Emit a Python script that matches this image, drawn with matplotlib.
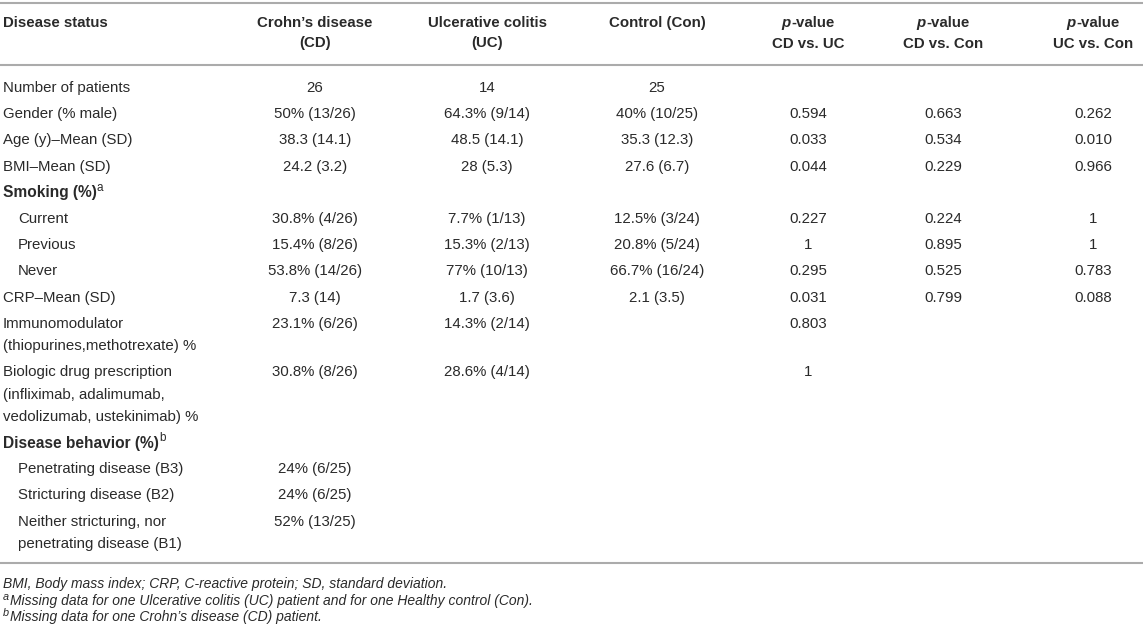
import matplotlib.pyplot as plt

plt.rcParams['font.family'] = ['Liberation Sans', 'DejaVu Sans']

# table content
row_labels = ["Number of patients", "Gender (% male)", "Age (y)–Mean (SD)", "BMI–Mean (SD)",
              "Smoking (%)", "Current", "Previous", "Never", "CRP–Mean (SD)",
              "Immunomodulator\n(thiopurines,methotrexate) %",
              "Biologic drug prescription\n(infliximab, adalimumab,\nvedolizumab, ustekinimab) %",
              "Disease behavior (%)", "Penetrating disease (B3)", "Stricturing disease (B2)",
              "Neither stricturing, nor\npenetrating disease (B1)"]
row_kind = ["", "", "", "", "a", "sub", "sub", "sub", "", "", "", "b", "sub", "sub", "sub"]

cd = ["26", "50% (13/26)", "38.3 (14.1)", "24.2 (3.2)", "", "30.8% (4/26)", "15.4% (8/26)",
      "53.8% (14/26)", "7.3 (14)", "23.1% (6/26)", "30.8% (8/26)", "", "24% (6/25)",
      "24% (6/25)", "52% (13/25)"]
uc = ["14", "64.3% (9/14)", "48.5 (14.1)", "28 (5.3)", "", "7.7% (1/13)", "15.3% (2/13)",
      "77% (10/13)", "1.7 (3.6)", "14.3% (2/14)", "28.6% (4/14)", "", "", "", ""]
con = ["25", "40% (10/25)", "35.3 (12.3)", "27.6 (6.7)", "", "12.5% (3/24)", "20.8% (5/24)",
       "66.7% (16/24)", "2.1 (3.5)", "", "", "", "", "", ""]
p_cd_uc = ["", "0.594", "0.033", "0.044", "", "0.227", "1", "0.295", "0.031", "0.803", "1",
           "", "", "", ""]
p_cd_con = ["", "0.663", "0.534", "0.229", "", "0.224", "0.895", "0.525", "0.799", "", "",
            "", "", "", ""]
p_uc_con = ["", "0.262", "0.010", "0.966", "", "1", "1", "0.783", "0.088", "", "",
            "", "", "", ""]

col_heads = [["Crohn’s disease", "(CD)"], ["Ulcerative colitis", "(UC)"], ["Control (Con)"],
             ["p-value", "CD vs. UC"], ["p-value", "CD vs. Con"], ["p-value", "UC vs. Con"]]
foot_marks = ["", "a", "b"]
footnotes = ["BMI, Body mass index; CRP, C-reactive protein; SD, standard deviation.",
             "Missing data for one Ulcerative colitis (UC) patient and for one Healthy control (Con).",
             "Missing data for one Crohn’s disease (CD) patient."]

W, H = 1143, 631
fs = 10.8
txt = '#2a2a2a'
line_col = '#ababab'
col_x = [315, 487, 657, 808, 943, 1093]

fig = plt.figure(figsize=(W / 100, H / 100), dpi=100)
ax = fig.add_axes([0, 0, 1, 1])
ax.set_xlim(0, W)
ax.set_ylim(H, 0)
ax.axis('off')
renderer = fig.canvas.get_renderer()


def width_of(t):
    return t.get_window_extent(renderer).width

for y in (3, 65, 563):
    ax.plot([0, W], [y, y], color=line_col, lw=1.5, solid_capstyle='butt')

# header
ax.text(3, 23, "Disease status", fontsize=fs, fontweight='bold', color=txt, va='center')
for x, head in zip(col_x, col_heads):
    for k, line in enumerate(head):
        y = 23 + 20.5 * k
        if line.startswith("p-"):
            t1 = ax.text(0, y, "p", fontsize=fs, fontweight='bold', style='italic',
                         color=txt, va='center')
            t2 = ax.text(0, y, "-value", fontsize=fs, fontweight='bold', color=txt, va='center')
            w1, w2 = width_of(t1), width_of(t2)
            x0 = x - (w1 + w2) / 2
            t1.set_x(x0)
            t2.set_x(x0 + w1)
        else:
            ax.text(x, y, line, fontsize=fs, fontweight='bold', color=txt,
                    va='center', ha='center')

# body
pitch, lh = 26.2, 22.3
y = 88
for i, lab in enumerate(row_labels):
    kind = row_kind[i]
    lines = lab.split("\n")
    if kind in ("a", "b"):
        t = ax.text(3, y, lines[0], fontsize=11.2, fontweight='bold', color=txt, va='center')
        ax.text(3 + width_of(t), y - 5, kind, fontsize=8.5, color=txt, va='center')
    else:
        x0 = 18 if kind == "sub" else 3
        for k, line in enumerate(lines):
            ax.text(x0, y + lh * k, line, fontsize=fs, color=txt, va='center')
    for x, col in zip(col_x, [cd, uc, con, p_cd_uc, p_cd_con, p_uc_con]):
        if col[i]:
            ax.text(x, y, col[i], fontsize=fs, color=txt, va='center', ha='center')
    y += pitch + lh * (len(lines) - 1)

for k, (mark, note) in enumerate(zip(foot_marks, footnotes)):
    yy = 584 + 16.5 * k
    x0 = 3
    if mark:
        m = ax.text(x0, yy - 4, mark, fontsize=7.8, style='italic', color=txt, va='center')
        x0 += width_of(m) + 1
    ax.text(x0, yy, note, fontsize=10, style='italic', color=txt, va='center')

fig.savefig("out.png", dpi=100)
